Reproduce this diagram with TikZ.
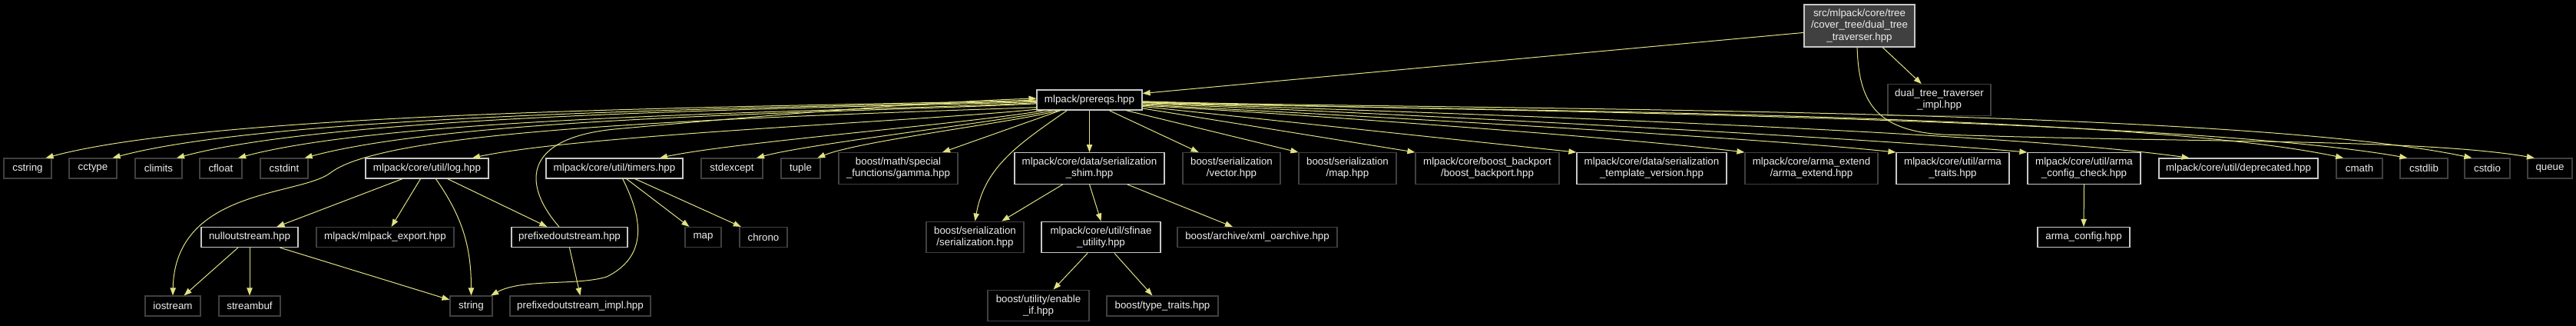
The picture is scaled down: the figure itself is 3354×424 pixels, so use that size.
\documentclass[tikz,border=0pt]{standalone}
\usepackage{fontspec}
\setmainfont{Liberation Sans}
\usepackage{tikz}
\usetikzlibrary{arrows.meta}
\definecolor{edgecol}{RGB}{225,225,130}
\definecolor{docline}{RGB}{200,200,200}
\definecolor{sysline}{RGB}{64,64,64}
\definecolor{rootfill}{RGB}{64,64,64}
\definecolor{txtcol}{RGB}{238,238,238}

\begin{document}
\begin{tikzpicture}[x=0.75pt,y=0.75pt,
  file/.style={draw=docline,line width=0.9pt,fill=black,text=txtcol,
    font=\fontsize{10}{11.3}\selectfont,align=center,inner sep=1pt,minimum height=19.5pt},
  sysfile/.style={file,draw=sysline},
  twoline/.style={minimum height=30.5pt},
  inc/.style={draw=edgecol,line width=0.75pt,-{Triangle[length=7.5pt,width=5.5pt]}}]
\fill[black] (0,0) rectangle (3354,-424);

% top
\node[file,fill=rootfill,minimum width=108pt,minimum height=41.25pt] (root) at (2421,-33.5) {src/mlpack/core/tree\\/cover\_tree/dual\_tree\\\_traverser.hpp};
\node[sysfile,twoline,minimum width=100.5pt] (impl) at (2525,-130) {dual\_tree\_traverser\\\_impl.hpp};
\node[file,minimum width=102.75pt] (prereqs) at (1418.5,-130) {mlpack/prereqs.hpp};

% second row
\node[sysfile,minimum width=46.5pt] (cstring) at (36,-219) {cstring};
\node[sysfile,minimum width=46.5pt] (cctype) at (121,-219) {cctype};
\node[sysfile,minimum width=45.75pt] (climits) at (206.5,-219) {climits};
\node[sysfile,minimum width=41.25pt] (cfloat) at (287.5,-219) {cfloat};
\node[sysfile,minimum width=46.5pt] (cstdint) at (370,-219) {cstdint};
\node[file,minimum width=120pt] (log) at (556,-219) {mlpack/core/util/log.hpp};
\node[file,minimum width=133.5pt] (timers) at (800,-219) {mlpack/core/util/timers.hpp};
\node[sysfile,minimum width=60pt] (stdexcept) at (953,-219) {stdexcept};
\node[sysfile,minimum width=38.25pt] (tuple) at (1042.5,-219) {tuple};
\node[sysfile,twoline,minimum width=116.25pt] (gamma) at (1169.5,-219) {boost/math/special\\\_functions/gamma.hpp};
\node[file,twoline,minimum width=146.25pt] (shim) at (1418.5,-219) {mlpack/core/data/serialization\\\_shim.hpp};
\node[sysfile,twoline,minimum width=95.25pt] (vector) at (1603.5,-219) {boost/serialization\\/vector.hpp};
\node[sysfile,twoline,minimum width=95.25pt] (maphpp) at (1754.5,-219) {boost/serialization\\/map.hpp};
\node[sysfile,twoline,minimum width=140.25pt] (backport) at (1936.5,-219) {mlpack/core/boost\_backport\\/boost\_backport.hpp};
\node[file,twoline,minimum width=146.25pt] (tmplver) at (2150.5,-219) {mlpack/core/data/serialization\\\_template\_version.hpp};
\node[sysfile,twoline,minimum width=129.75pt] (armaext) at (2358.5,-219) {mlpack/core/arma\_extend\\/arma\_extend.hpp};
\node[file,twoline,minimum width=110.25pt] (armatraits) at (2542.5,-219) {mlpack/core/util/arma\\\_traits.hpp};
\node[file,twoline,minimum width=110.25pt] (armacfgchk) at (2713.5,-219) {mlpack/core/util/arma\\\_config\_check.hpp};
\node[file,minimum width=155.25pt] (deprecated) at (2914.5,-219) {mlpack/core/util/deprecated.hpp};
\node[sysfile,minimum width=45pt] (cmath) at (3072,-219) {cmath};
\node[sysfile,minimum width=46.5pt] (cstdlib) at (3156,-219) {cstdlib};
\node[sysfile,minimum width=44.25pt] (cstdio) at (3238.5,-219) {cstdio};
\node[sysfile,minimum width=43.5pt] (queue) at (3320,-219) {queue};

% third row
\node[file,minimum width=94.5pt] (nullout) at (325,-308.5) {nulloutstream.hpp};
\node[sysfile,minimum width=134.25pt] (export) at (501.5,-308.5) {mlpack/mlpack\_export.hpp};
\node[file,minimum width=113.25pt] (prefixed) at (741.5,-308.5) {prefixedoutstream.hpp};
\node[sysfile,minimum width=35.25pt] (map) at (915.5,-308.5) {map};
\node[sysfile,minimum width=46.5pt] (chrono) at (994,-308.5) {chrono};
\node[sysfile,twoline,minimum width=95.25pt] (serial) at (1269.5,-308.5) {boost/serialization\\/serialization.hpp};
\node[file,twoline,minimum width=116.25pt] (sfinae) at (1433.5,-308.5) {mlpack/core/util/sfinae\\\_utility.hpp};
\node[sysfile,minimum width=156pt] (xml) at (1637,-308.5) {boost/archive/xml\_oarchive.hpp};
\node[file,minimum width=90pt] (armacfg) at (2713,-308.5) {arma\_config.hpp};

% bottom row
\node[sysfile,minimum width=54pt] (iostream) at (225,-398) {iostream};
\node[sysfile,minimum width=60pt] (streambuf) at (325,-398) {streambuf};
\node[sysfile,minimum width=41.25pt] (string) at (613.5,-398) {string};
\node[sysfile,minimum width=137.25pt] (prefimpl) at (755.5,-398) {prefixedoutstream\_impl.hpp};
\node[sysfile,twoline,minimum width=99pt] (enableif) at (1352,-397.5) {boost/utility/enable\\\_if.hpp};
\node[sysfile,minimum width=108.75pt] (typetraits) at (1513.5,-398) {boost/type\_traits.hpp};

% includes of the traverser
\draw[inc] (root.187) -- (prereqs.7);
\draw[inc] (root.-43) -- (impl.138);
\draw[inc] (root.-96) .. controls (2420,-130) and (2440,-170) .. (2530,-175) .. controls (2850,-186) and (3150,-180) .. (queue.146);

% prereqs, to the left
\draw[inc] (prereqs.180) to[out=182,in=15,distance=190pt] (cstring.30);
\draw[inc] (prereqs.181) to[out=182,in=15,distance=180pt] (cctype.28);
\draw[inc] (prereqs.182) to[out=182,in=15,distance=175pt] (climits.30);
\draw[inc] (prereqs.183) to[out=183,in=15,distance=165pt] (cfloat.31);
\draw[inc] (prereqs.184) to[out=183,in=15,distance=160pt] (cstdint.27);
\draw[inc] (prereqs.188) .. controls (900,-155) and (500,-170) .. (430,-225) .. controls (390,-255) and (228,-245) .. (iostream.north);
\draw[inc] (prereqs.190) to[out=186,in=12,distance=110pt] (log.13);
\draw[inc] (prereqs.193) to[out=190,in=12,distance=75pt] (timers.13);
\draw[inc] (prereqs.196) to[out=192,in=15,distance=55pt] (stdexcept.23);
\draw[inc] (prereqs.199) to[out=195,in=22,distance=45pt] (tuple.32);
\draw[inc] (prereqs.200) -- (gamma.20);
\draw[inc] (prereqs.205) to[out=-145,in=80] (serial.north);
\draw[inc] (prereqs.south) -- (shim.north);

% prereqs, to the right
\draw[inc] (prereqs.-28) -- (vector.154);
\draw[inc] (prereqs.-16) -- (maphpp.north west);
\draw[inc] (prereqs.-9) -- (backport.north west);
\draw[inc] (prereqs.-7) -- (tmplver.north west);
\draw[inc] (prereqs.-6) to[out=-3,in=173,distance=120pt] (armaext.north west);
\draw[inc] (prereqs.-5) to[out=-3,in=174,distance=150pt] (armatraits.north west);
\draw[inc] (prereqs.-4) to[out=-2,in=175,distance=175pt] (armacfgchk.north west);
\draw[inc] (prereqs.-3) to[out=-2,in=172,distance=200pt] (deprecated.168);
\draw[inc] ([yshift=-2.3pt]prereqs.east) .. controls (1794,-144) and (2752,-142) .. (cmath.147);
\draw[inc] ([yshift=-1.8pt]prereqs.east) .. controls (1807,-143) and (2820,-150) .. (cstdlib.148);
\draw[inc] ([yshift=-1.3pt]prereqs.east) .. controls (1820,-143) and (2893,-137) .. (cstdio.146);

% log and streams
\draw[inc] (log.203) -- (nullout.21);
\draw[inc] (log.238) -- (export.59);
\draw[inc] (log.-50) to[out=-55,in=90] (string.north);
\draw[inc] (log.-27) -- (prefixed.155);
\draw[inc] (nullout.222) -- (iostream.43);
\draw[inc] (nullout.south) -- (streambuf.north);
\draw[inc] (nullout.-19) -- (string.164);
\draw[inc] (prefixed.south) -- (prefimpl.north);
\draw[inc] (prefixed.135) .. controls (680,-240) and (680,-180) .. (800,-168) .. controls (1000,-150) and (1200,-133) .. ([yshift=1.5pt]prereqs.west);

% timers
\draw[inc] (timers.-52) .. controls (840,-290) and (840,-335) .. (790,-360) .. controls (750,-372) and (680,-362) .. (string.28);
\draw[inc] (timers.-41) -- (map.143);
\draw[inc] (timers.-27) -- (chrono.155);

% serialization
\draw[inc] (shim.211) -- (serial.31);
\draw[inc] (shim.south) -- (sfinae.north);
\draw[inc] (shim.-23) -- (xml.157);
\draw[inc] (sfinae.230) -- (enableif.47);
\draw[inc] (sfinae.-50) -- (typetraits.134);
\draw[inc] (armacfgchk.south) -- (armacfg.north);
\end{tikzpicture}
\end{document}
